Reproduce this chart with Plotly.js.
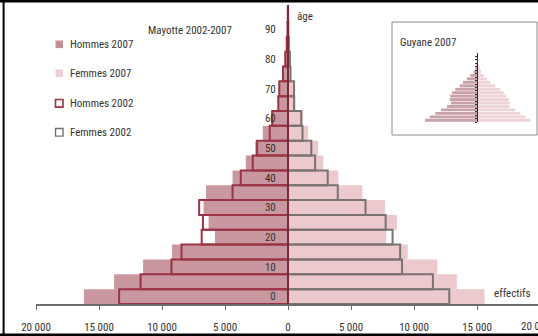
<!DOCTYPE html>
<html>
<head>
<meta charset="utf-8">
<script src="https://cdn.plot.ly/plotly-3.0.1.min.js"></script>
<style>
html,body{margin:0;padding:0;background:#fff;overflow:hidden;}
#chart{width:538px;height:336px;}
</style>
</head>
<body>
<div id="chart"></div>
<script>
// ---- Mayotte data (5-year age groups) ----
const ageStart = [0,5,10,15,20,25,30,35,40,45,50,55,60,65,70,75,80,85,90,95];
const hommes2007 = [16200,13800,11500,9200,5800,6300,6700,6500,4400,3350,2600,2000,1350,800,750,420,320,130,50,20];
const femmes2007 = [15600,13400,11850,9500,7800,8650,7700,5900,4000,2800,2400,1600,1200,600,550,250,180,90,40,15];
const hommes2002 = [13400,11700,9250,8450,6850,6750,7050,4400,3750,2800,2450,1450,1250,770,690,400,200,100,40,15];
const femmes2002 = [12800,11500,9050,8900,8300,7750,6150,3950,3150,2150,1850,1150,1050,480,480,200,150,70,30,10];

// ---- Guyane 2007 inset ----
const guyaneHommes = [11960,10880,9590,8280,6900,5980,6280,6140,5750,4990,3980,3220,2300,1540,760,390,180,110,50,20];
const guyaneFemmes = [12260,11110,9960,8810,7520,7520,7290,6740,6140,5360,4210,3060,2300,1540,920,620,280,160,70,20];

// ---- tick labels ----
const ageTickVals = [0,10,20,30,40,50,60,70,80,90];
const ageTickText = ['0','10','20','30','40','50','60','70','80','90'];
const xTickVals = [-20000,-15000,-10000,-5000,0,5000,10000,15000];
const xTickText = ['20 000','15 000','10 000','5 000','0','5 000','10 000','15 000'];

const FONT = '"Liberation Sans Narrow", "Arial Narrow", "Roboto Condensed", Arial, sans-serif';
const TXT = '#333333';

const yc = ageStart.map(a => a + 2.5);
const neg = arr => arr.map(v => -v);

// pixel helpers for paper coordinates (plot area: x 36..538, y 5..304)
const L = 36, W = 502, B = 304, H = 299;
const px = x => (x - L) / W;
const py = y => (B - y) / H;

const traces = [
  {type:'bar', orientation:'h', y:yc, x:femmes2007, width:5,
   marker:{color:'#ecc9cd', line:{width:0}}, name:'Femmes 2007', hoverinfo:'skip'},
  {type:'bar', orientation:'h', y:yc, x:neg(hommes2007), width:5,
   marker:{color:'#c9979f', line:{width:0}}, name:'Hommes 2007', hoverinfo:'skip'},
  {type:'bar', orientation:'h', y:yc, x:neg(hommes2002), width:5,
   marker:{color:'rgba(0,0,0,0)', line:{color:'#9a3344', width:2}}, name:'Hommes 2002', hoverinfo:'skip'},
  {type:'bar', orientation:'h', y:yc, x:femmes2002, width:5,
   marker:{color:'rgba(0,0,0,0)', line:{color:'#7a7272', width:2}}, name:'Femmes 2002', hoverinfo:'skip'},
  // inset
  {type:'bar', orientation:'h', y:yc, x:neg(guyaneHommes), width:4.2, xaxis:'x2', yaxis:'y2',
   marker:{color:'#c9a1a8', line:{width:0}}, hoverinfo:'skip'},
  {type:'bar', orientation:'h', y:yc, x:guyaneFemmes, width:4.2, xaxis:'x2', yaxis:'y2',
   marker:{color:'#edd3d6', line:{width:0}}, hoverinfo:'skip'}
];

const legendItems = [
  {label:'Hommes 2007', y:44.3, fill:'#c48e98', line:'#c48e98', lw:0},
  {label:'Femmes 2007', y:73.3, fill:'#efcfd3', line:'#efcfd3', lw:0},
  {label:'Hommes 2002', y:103.3, fill:'rgba(0,0,0,0)', line:'#9a3344', lw:1.6},
  {label:'Femmes 2002', y:132.3, fill:'rgba(0,0,0,0)', line:'#707070', lw:1.4}
];

const shapes = [];
const annotations = [];

legendItems.forEach(it => {
  shapes.push({type:'rect', xref:'paper', yref:'paper',
    x0:px(55.5), x1:px(63), y0:py(it.y+3.8), y1:py(it.y-3.8),
    fillcolor:it.fill, line:{color:it.line, width:it.lw}});
  annotations.push({xref:'paper', yref:'paper', x:px(67.5), y:py(it.y), text:it.label,
    showarrow:false, xanchor:'left', yanchor:'middle', font:{family:FONT, size:11, color:TXT}});
});

// inset box
shapes.push({type:'rect', xref:'paper', yref:'paper', x0:px(392), x1:px(537), y0:py(135), y1:py(22),
  line:{color:'#8c8c8c', width:1}, fillcolor:'rgba(0,0,0,0)', layer:'below'});
// black frame bits
shapes.push({type:'rect', xref:'paper', yref:'paper', x0:-0.2, x1:1.2, y0:py(2.6), y1:1.1,
  fillcolor:'#000', line:{width:0}});
shapes.push({type:'rect', xref:'paper', yref:'paper', x0:px(2.6), x1:px(4.6), y0:-0.2, y1:1.1,
  fillcolor:'#000', line:{width:0}});
shapes.push({type:'rect', xref:'paper', yref:'paper', x0:-0.2, x1:1.2, y0:-0.2, y1:py(333.5),
  fillcolor:'#000', line:{width:0}});

annotations.push(
  {xref:'paper', yref:'paper', x:px(190), y:py(30), text:'Mayotte 2002-2007', showarrow:false,
   xanchor:'center', yanchor:'middle', font:{family:FONT, size:11, color:TXT}},
  {xref:'paper', yref:'paper', x:px(295), y:py(17), text:'âge', showarrow:false,
   xanchor:'left', yanchor:'middle', font:{family:FONT, size:11, color:TXT}},
  {xref:'paper', yref:'paper', x:px(533), y:py(293), text:'effectifs', showarrow:false,
   xanchor:'right', yanchor:'middle', font:{family:FONT, size:11, color:TXT}},
  {xref:'paper', yref:'paper', x:px(536), y:py(326.5), text:'20 000', showarrow:false,
   xanchor:'center', yanchor:'middle', font:{family:FONT, size:11, color:TXT}},
  {xref:'paper', yref:'paper', x:px(397.5), y:py(42.7), text:'Guyane 2007', showarrow:false,
   xanchor:'left', yanchor:'middle', font:{family:FONT, size:11, color:TXT}}
);

const layout = {
  width:538, height:336,
  margin:{l:L, r:0, t:5, b:32, pad:0},
  paper_bgcolor:'#ffffff', plot_bgcolor:'rgba(0,0,0,0)',
  barmode:'overlay', showlegend:false,
  font:{family:FONT, size:11, color:TXT},
  xaxis:{range:[-20000, 19841], tickvals:xTickVals, ticktext:xTickText,
    showline:true, linecolor:'#6e6e6e', linewidth:1.5, ticks:'outside', ticklen:4, tickcolor:'#6e6e6e',
    ticklabelstandoff:8, showgrid:false, zeroline:false, fixedrange:true,
    tickfont:{family:FONT, size:11, color:TXT}},
  yaxis:{range:[0, 100.7], anchor:'free', position:px(288),
    tickvals:ageTickVals.map(a => a + 2.5), ticktext:ageTickText,
    showline:true, linecolor:'#7d2a38', linewidth:2, ticks:'outside', ticklen:9, tickcolor:'rgba(0,0,0,0)',
    showgrid:false, zeroline:false, fixedrange:true,
    tickfont:{family:FONT, size:11, color:TXT}},
  xaxis2:{domain:[px(419), px(535)], range:[-13340, 13340], anchor:'y2', visible:false, fixedrange:true},
  yaxis2:{domain:[py(122), py(53)], range:[0,100], anchor:'free', position:px(477),
    showline:true, linecolor:'#333', linewidth:1, ticks:'outside', ticklen:2, tickcolor:'#333',
    tickvals:ageStart, showticklabels:false, showgrid:false, zeroline:false, fixedrange:true},
  shapes:shapes, annotations:annotations
};

Plotly.newPlot('chart', traces, layout, {displayModeBar:false, staticPlot:true});
</script>
</body>
</html>
